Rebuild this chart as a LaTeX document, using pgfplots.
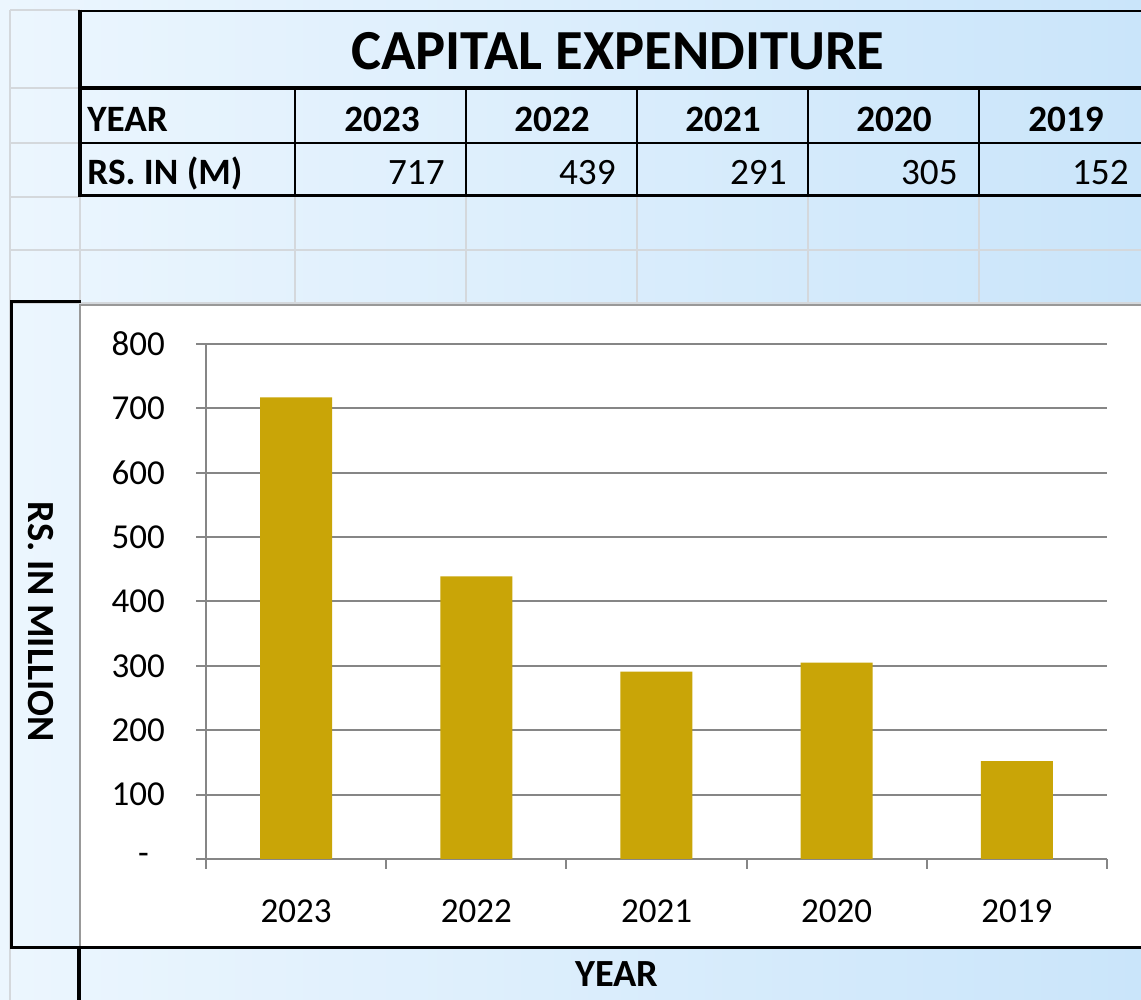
\documentclass[border=0pt]{standalone}
\usepackage{fontspec}
\setmainfont{Carlito}
\usepackage{pgfplots}
\pgfplotsset{compat=1.18}
\definecolor{barc}{RGB}{201,165,7}
\definecolor{axgray}{RGB}{134,134,134}
\definecolor{cellgray}{RGB}{212,216,220}
\definecolor{bgl}{RGB}{236,246,254}
\definecolor{bgr}{RGB}{202,229,250}
\begin{document}
\begin{tikzpicture}[x=0.5pt,y=0.5pt]
\useasboundingbox (0,0) rectangle (1141,1000);
\clip (0,0) rectangle (1141,1000);
\shade[left color=bgl, right color=bgr] (0,0) rectangle (1141,1000);
% spreadsheet cell grid
\begin{scope}[cellgray, line width=1pt]
\draw (10,0) -- (10,990);
\foreach \y in {990,912,857,803} \draw (10,\y) -- (80,\y);
\foreach \y in {750,697} \draw (10,\y) -- (1141,\y);
\foreach \x in {80,295,466,637,808,979} \draw (\x,803) -- (\x,697);
\end{scope}
% chart area
\fill[white] (80,53) rectangle (1141,695);
\draw[black!40, line width=1pt] (80,53) -- (80,695) -- (1141,695);
% black borders of the table
\draw[line width=1pt] (80,989) -- (1141,989);
\draw[line width=2pt] (80,990) -- (80,803);
\draw[line width=2pt] (79,912) -- (1141,912);
\draw[line width=1pt] (80,857) -- (1141,857);
\draw[line width=1.5pt] (79,804) -- (1141,804);
\foreach \x in {295,466,637,808,979} \draw[line width=1pt] (\x,912) -- (\x,804);
% left label cell and bottom cell
\draw[line width=1.5pt] (11,52) -- (11,698) -- (81,698);
\draw[line width=1.5pt] (10,52) -- (1141,52);
\draw[line width=2pt] (79,52) -- (79,0);
% texts
\node[anchor=base, inner sep=0pt, font=\fontsize{28.3}{32}\selectfont\bfseries] at (618,930) {CAPITAL EXPENDITURE};
\begin{scope}[every node/.style={inner sep=0pt, font=\fontsize{18.6}{20}\selectfont}]
\node[anchor=base west, font=\fontsize{18.6}{20}\selectfont\bfseries] at (87,868) {YEAR};
\node[anchor=base west, font=\fontsize{18.6}{20}\selectfont\bfseries] at (87,815) {RS. IN (M)};
\foreach \x/\t in {382/2023,552/2022,723/2021,894/2020,1066/2019}
  \node[anchor=base, font=\fontsize{18.6}{20}\selectfont\bfseries] at (\x,868) {\t};
\foreach \x/\t in {445/717,616/439,787/291,958/305,1129/152}
  \node[anchor=base east] at (\x,815) {\t};
\end{scope}
\node[rotate=-90, inner sep=0pt, font=\fontsize{19.2}{21}\selectfont\bfseries] at (41,378) {RS. IN MILLION};
\node[anchor=base, inner sep=0pt, font=\fontsize{19.2}{21}\selectfont\bfseries] at (617,13) {YEAR};
% the chart
\begin{axis}[
  at={(103pt,70.5pt)}, anchor=south west,
  width=450.5pt, height=257.5pt, scale only axis,
  xmin=-0.5, xmax=4.5, ymin=0, ymax=800,
  axis x line=bottom, axis y line=left,
  axis line style={draw=axgray, line width=1.2pt, -},
  tick align=outside, major tick length=5pt,
  tick style={draw=axgray, line width=1pt},
  ytick={0,100,200,300,400,500,600,700,800},
  yticklabels={{-\hspace*{8pt}},100,200,300,400,500,600,700,800},
  yticklabel style={xshift=-12pt},
  xtick={-0.5,0.5,1.5,2.5,3.5,4.5},
  xticklabels={},
  extra x ticks={0,1,2,3,4},
  extra x tick labels={2023,2022,2021,2020,2019},
  extra x tick style={major tick length=0pt, xticklabel style={yshift=-17pt}},
  ymajorgrids, grid style={draw=axgray, line width=1pt},
  tick label style={font=\fontsize{17.5}{19}\selectfont},
  /pgf/number format/assume math mode=true,
  clip=false,
]
\addplot[ybar, bar width=36pt, fill=barc, draw=none] coordinates {(0,717) (1,439) (2,291) (3,305) (4,152)};
\end{axis}
\end{tikzpicture}
\end{document}
